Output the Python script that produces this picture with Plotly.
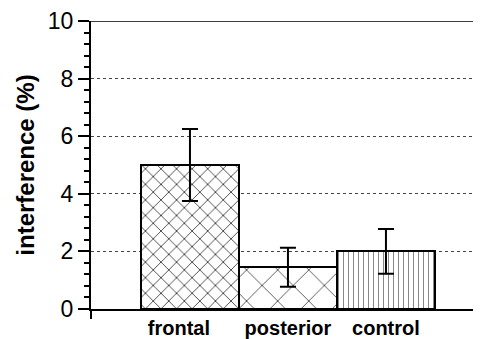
import plotly.graph_objects as go

categories = ["frontal", "posterior", "control"]
values = [5.0, 1.45, 2.0]
errors = [1.25, 0.68, 0.78]
y_ticks = [0, 2, 4, 6, 8, 10]
tick_text = ["<b>frontal</b>" + "\u00a0" * 4, "<b>posterior</b>", "<b>control</b>"]

fig = go.Figure()
fig.add_trace(go.Bar(
    x=categories, y=values,
    width=1.0,
    marker=dict(
        color="white",
        line=dict(color="black", width=2),
        pattern=dict(
            shape=["x", "x", "|"],
            size=[11, 22, 5],
            solidity=[0.12, 0.07, 0.2],
            fgcolor=["black", "#333333", "#888888"],
            bgcolor="white",
            fillmode="replace",
        ),
    ),
    error_y=dict(type="data", array=errors, visible=True,
                 color="black", thickness=2, width=8),
))

fig.update_layout(
    width=473, height=331,
    margin=dict(l=83, r=0, t=11, b=26),
    paper_bgcolor="white", plot_bgcolor="white",
    showlegend=False,
    bargap=0,
    font=dict(family="Arial, Liberation Sans, sans-serif", color="black"),
    xaxis=dict(
        type="category", range=[-1.01, 2.97],
        showline=True, linecolor="black", linewidth=2,
        ticks="", showgrid=False,
        tickfont=dict(size=20),
        tickvals=categories,
        ticktext=tick_text,
        ticklabeloverflow="allow",
    ),
    yaxis=dict(
        range=[0, 10], tickvals=y_ticks,
        showline=True, linecolor="black", linewidth=2,
        ticks="outside", ticklen=11, tickwidth=2, tickcolor="black",
        tickfont=dict(size=23),
        ticklabeloverflow="allow",
        showgrid=True, gridcolor="#444444", griddash="dot", gridwidth=1,
        zeroline=False,
        minor=dict(dtick=0.4, ticks="outside", ticklen=5, tickwidth=1.5,
                   tickcolor="black", showgrid=False),
        title=dict(text="<b>interference (%)</b>", font=dict(size=24), standoff=6),
    ),
    shapes=[
        dict(type="line", xref="paper", yref="y", x0=0, x1=1, y0=10, y1=10,
             line=dict(color="black", width=1.5)),
        dict(type="line", xref="paper", yref="paper", x0=0, x1=0, y0=-0.035, y1=0,
             line=dict(color="black", width=2)),
    ],
)

fig.write_html("out.html")
